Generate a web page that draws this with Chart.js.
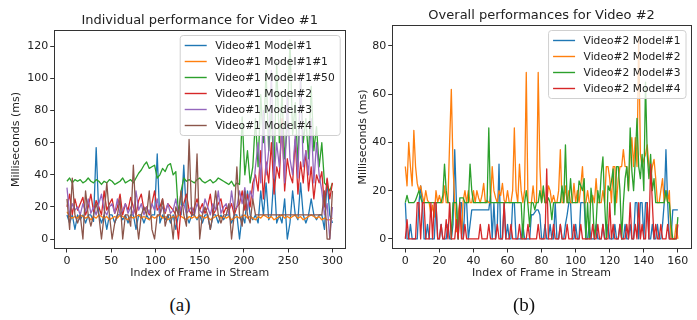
<!DOCTYPE html>
<html>
<head>
<meta charset="utf-8">
<script src="https://cdn.jsdelivr.net/npm/chart.js@4"></script>
<style>
html, body { margin: 0; padding: 0; background: #fff; width: 697px; height: 320px; overflow: hidden; }
#ca { position: absolute; left: 0; top: 0; }
#cb { position: absolute; left: 345px; top: 0; }
.cap { position: absolute; top: 294px; width: 60px; text-align: center; line-height: 22px;
       font-family: "Liberation Serif", "DejaVu Serif", serif; font-size: 19px; color: #111; }
</style>
</head>
<body>
<canvas id="ca" width="350" height="285"></canvas>
<canvas id="cb" width="352" height="285"></canvas>
<div class="cap" style="left:150px">(a)</div>
<div class="cap" style="left:494px">(b)</div>
<script>
// ---- (a) Video #1, sampled every 3rd frame ----
const framesA = Array.from({length: 101}, (_, i) => i * 3);
const xTicksA = [0, 50, 100, 150, 200, 250, 300];
const yTicksA = [0, 20, 40, 60, 80, 100, 120];
const labelsA = ['Video#1 Model#1', 'Video#1 Model#1#1', 'Video#1 Model#1#50',
                 'Video#1 Model#2', 'Video#1 Model#3', 'Video#1 Model#4'];

const v1m1 = [15,10,15,6,15,12,15,10,15,15, 11,57,15,10,15,6,15,15,10,15,
  15,12,15,10,15,15,6,15,15,10, 15,12,15,15,53,10,15,12,15,10,
  15,6,15,15,46,15,10,15,15,12, 15,10,15,15,6,15,15,10,15,12,
  15,15,10,15,15,0,15,10,30,15, 12,15,10,30,15,35,12,15,40,10,
  15,10,25,0,10,30,15,12,35,15, 10,15,25,15,12,15,15,6,37,15, 10];
const v1m1_1 = [17,14,13,14,13,15,14,13,14,12, 14,13,15,14,13,14,12,13,14,13,
  15,14,13,12,14,13,14,15,13,14, 13,12,14,13,14,15,13,14,12,13,
  14,13,15,14,13,12,14,13,14,13, 15,14,13,14,12,13,14,15,13,14,
  13,14,12,13,14,13,14,15,13,14, 13,12,14,13,15,14,13,14,12,13,
  14,15,13,14,13,14,15,13,14,12, 13,14,15,14,13,14,12,13,12,12, 13];
const v1m1_50 = [36,38,35,37,36,37,35,36,38,36, 35,37,36,34,36,35,37,36,34,35,
  36,38,35,36,37,35,38,41,43,46, 48,44,45,46,38,40,44,42,46,47,
  40,42,15,30,38,36,37,36,35,37, 38,36,35,36,37,35,36,38,37,36,
  35,34,36,33,35,34,76,40,55,35, 45,75,45,90,60,105,55,80,40,110,
  60,90,50,70,124,65,85,45,100,60, 75,50,95,55,70,45,60,35,33,30, 35];
const v1m2 = [20,28,15,25,18,22,26,15,20,28, 17,24,20,15,30,18,22,25,16,20,
  28,15,22,18,26,20,15,24,28,18, 20,15,22,30,18,20,25,16,22,20,
  18,15,0,20,22,28,18,15,20,25, 18,22,16,20,28,15,18,22,25,16,
  20,18,22,15,20,22,30,18,28,20, 35,40,30,55,25,48,35,60,28,45,
  38,75,30,50,40,35,62,28,48,35, 55,30,45,25,40,35,42,20,38,25, 35];
const v1m3 = [32,15,22,18,20,15,22,17,25,16, 20,15,22,28,18,15,20,22,16,25,
  15,18,22,16,20,15,30,18,22,15, 20,16,22,18,25,15,20,17,22,16,
  18,25,15,20,22,16,18,20,15,22, 18,16,25,20,15,22,18,30,16,20,
  22,15,30,18,20,30,22,32,18,30, 25,45,60,35,80,40,55,105,38,60,
  45,70,35,90,50,40,65,38,100,45, 55,40,75,35,60,40,30,15,22,0, 20];
const v1m4 = [25,6,38,15,10,15,0,30,15,8, 15,22,15,0,15,35,15,0,10,15,
  25,0,15,15,8,46,15,0,15,20, 15,30,6,0,15,15,25,8,15,15,
  0,20,15,30,15,8,62,15,15,53, 0,15,20,15,6,15,30,15,10,15,
  15,22,0,15,45,15,8,30,15,10, 25,15,15,15,15,15,15,15,15,15,
  15,15,15,15,15,15,15,15,15,15, 15,15,15,15,15,15,15,30,0,0, 30];

// ---- (b) Video #2, every frame ----
const framesB = Array.from({length: 161}, (_, i) => i);
const xTicksB = [0, 20, 40, 60, 80, 100, 120, 140, 160];
const yTicksB = [0, 20, 40, 60, 80];
const labelsB = ['Video#2 Model#1', 'Video#2 Model#2', 'Video#2 Model#3', 'Video#2 Model#4'];

const v2m1 = [15,0,0,6,0,0,0,0,15,22,15,0,0,6,0,0,0,0,15,0,
  0,6,0,0,0,6,0,0,6,37,15,0,15,15,0,15,15,0,6,12,
  12,12,12,12,12,12,12,12,12,12,18,0,15,0,6,31,0,0,15,0,
  6,0,0,15,15,0,0,0,0,6,0,0,0,0,10,10,11,12,12,10,
  0,0,6,0,0,6,0,0,15,0,0,6,0,0,6,10,15,15,0,0,
  6,0,0,15,15,15,0,0,6,0,0,0,6,0,0,0,6,0,0,6,
  0,0,0,6,0,0,6,0,0,6,0,0,6,0,0,15,15,0,15,15,
  0,15,15,0,0,6,0,0,6,0,0,6,15,37,15,0,0,12,12,12, 12];
const v2m2 = [30,22,40,30,22,45,30,23,20,22,18,15,20,16,15,10,14,9,20,15,
  18,15,15,22,15,15,40,62,30,15,3,10,15,2,16,20,15,20,15,15,
  20,15,20,17,15,18,23,15,16,15,15,30,20,17,15,20,18,23,16,15,
  20,15,15,20,46,20,15,31,20,15,20,69,15,15,15,22,15,15,69,30,
  15,20,15,15,22,20,15,18,15,15,20,37,15,15,22,15,20,15,15,23,
  15,20,15,22,30,15,15,20,15,15,18,15,25,15,15,15,20,15,30,30,
  25,15,30,30,15,25,30,30,37,30,30,20,35,42,30,42,30,84,35,30,
  33,35,39,30,25,30,33,25,15,15,20,25,15,20,15,20,0,0,0,6, 0];
const v2m3 = [15,18,15,15,15,15,16,18,20,17,15,15,15,15,15,15,15,15,15,15,
  15,15,18,31,20,15,15,0,15,15,15,0,17,17,17,15,15,15,31,20,
  15,15,15,15,15,15,15,15,15,46,15,15,15,15,15,15,15,15,15,15,
  15,15,15,15,15,15,15,15,15,0,15,20,14,5,15,15,12,15,15,20,
  15,22,15,15,17,15,8,15,15,15,15,15,22,15,39,15,15,25,15,15,
  15,15,24,22,20,25,0,15,0,21,15,0,6,20,15,27,34,15,0,22,
  20,24,29,10,30,30,20,0,15,25,30,20,46,28,20,33,50,30,25,35,
  20,65,35,25,35,20,25,15,15,15,15,15,15,20,15,15,6,0,0,0, 9];
const v2m4 = [0,8,0,0,0,0,0,15,15,0,15,15,0,0,0,15,0,15,15,0,
  0,6,0,0,8,0,15,0,0,0,8,0,15,0,0,6,0,0,0,0,
  0,0,0,0,6,0,0,0,0,6,0,0,0,0,6,0,0,0,15,0,
  0,0,6,0,0,0,0,6,0,0,0,0,6,0,0,0,0,0,6,0,
  0,0,0,29,0,0,0,6,0,0,0,6,0,0,0,6,0,0,0,6,
  0,0,0,6,0,0,0,0,0,0,6,0,0,6,0,0,6,0,0,0,
  15,0,6,0,0,0,6,0,0,0,6,0,15,0,0,6,0,15,0,6,
  0,0,15,0,31,15,0,6,0,0,6,0,0,0,6,0,0,0,0,0, 6];

const COLORS = ['#1f77b4', '#ff7f0e', '#2ca02c', '#d62728', '#9467bd', '#8c564b'];
const FONT = '"DejaVu Sans", sans-serif';
const INK = '#222';

// title over the plot area, axes frame, matplotlib-like legend inside the plot
const boxLegend = {
  id: 'boxLegend',
  afterDraw(chart, args, opts) {
    const {ctx, chartArea: a} = chart;
    const sets = chart.data.datasets;
    ctx.save();
    ctx.strokeStyle = '#333';
    ctx.lineWidth = 1;
    ctx.strokeRect(Math.round(a.left) + 0.5, Math.round(a.top) + 0.5,
                   Math.round(a.right - a.left) - 1, Math.round(a.bottom - a.top) - 1);

    ctx.font = '13px ' + FONT;
    ctx.fillStyle = INK;
    ctx.textAlign = 'center';
    ctx.textBaseline = 'middle';
    ctx.fillText(opts.title, (a.left + a.right) / 2, opts.titleY);

    ctx.font = '10.7px ' + FONT;
    ctx.textAlign = 'left';
    const w = Math.max(...sets.map(d => ctx.measureText(d.label).width)) + 40.5;
    const h = 20 + (sets.length - 1) * 16;
    const x = a.right - 5.5 - w, y = a.top + 5.5;
    ctx.beginPath();
    ctx.roundRect(x, y, w, h, 3);
    ctx.fillStyle = 'rgba(255,255,255,0.8)';
    ctx.fill();
    ctx.strokeStyle = '#d0d0d0';
    ctx.stroke();
    sets.forEach((d, i) => {
      const cy = y + 10 + i * 16;
      ctx.beginPath();
      ctx.moveTo(x + 4.5, cy);
      ctx.lineTo(x + 26.5, cy);
      ctx.strokeStyle = d.borderColor;
      ctx.lineWidth = 1.4;
      ctx.stroke();
      ctx.fillStyle = INK;
      ctx.fillText(d.label, x + 35, cy + 0.5);
    });
    ctx.restore();
  }
};

function series(frames, lists, labels) {
  return lists.map((vals, i) => ({
    label: labels[i],
    data: frames.map((f, k) => ({x: f, y: vals[k]})),
    borderColor: COLORS[i],
    borderWidth: 1.3,
    borderJoinStyle: 'round',
    pointRadius: 0,
    tension: 0,
    order: lists.length - 1 - i
  }));
}

function options(p) {
  const f = {family: FONT, size: 11};
  return {
    responsive: false,
    animation: false,
    layout: {padding: {left: 0, right: p.padRight, top: p.top, bottom: 0}},
    plugins: {
      legend: {display: false},
      tooltip: {enabled: false},
      title: {display: false},
      boxLegend: {title: p.title, titleY: p.titleY}
    },
    scales: {
      x: {
        type: 'linear', min: p.xMin, max: p.xMax,
        afterFit: s => { s.height = 36; },
        afterBuildTicks: s => { s.ticks = p.xTicks.map(v => ({value: v})); },
        ticks: {color: INK, font: f, padding: 2, maxRotation: 0, autoSkip: false},
        grid: {drawOnChartArea: false, drawTicks: true, tickLength: 3.5, tickColor: '#333'},
        border: {display: false},
        title: {display: true, text: 'Index of Frame in Stream', color: INK, font: f,
                padding: {top: 0, bottom: 5.7}}
      },
      y: {
        type: 'linear', min: p.yMin, max: p.yMax,
        afterFit: s => { s.width = p.yWidth; },
        afterBuildTicks: s => { s.ticks = p.yTicks.map(v => ({value: v})); },
        ticks: {color: INK, font: f, padding: 2, autoSkip: false},
        grid: {drawOnChartArea: false, drawTicks: true, tickLength: 3.5, tickColor: '#333'},
        border: {display: false},
        title: {display: true, text: 'Milliseconds (ms)', color: INK, font: f,
                padding: {top: p.yTitlePad, bottom: 0}}
      }
    }
  };
}

new Chart(document.getElementById('ca'), {
  type: 'line',
  data: {datasets: series(framesA, [v1m1, v1m1_1, v1m1_50, v1m2, v1m3, v1m4], labelsA)},
  options: options({
    title: 'Individual performance for Video #1', titleY: 20.5, top: 30,
    xMin: -15, xMax: 315, yMin: -6.2, yMax: 130.2, xTicks: xTicksA, yTicks: yTicksA,
    yWidth: 53.7, padRight: 4.3, yTitlePad: 10
  }),
  plugins: [boxLegend]
});

new Chart(document.getElementById('cb'), {
  type: 'line',
  data: {datasets: series(framesB, [v2m1, v2m2, v2m3, v2m4], labelsB)},
  options: options({
    title: 'Overall performances for Video #2', titleY: 16, top: 25,
    xMin: -8, xMax: 168, yMin: -4.2, yMax: 88.7, xTicks: xTicksB, yTicks: yTicksB,
    yWidth: 46.7, padRight: 5.5, yTitlePad: 12
  }),
  plugins: [boxLegend]
});
</script>
</body>
</html>
